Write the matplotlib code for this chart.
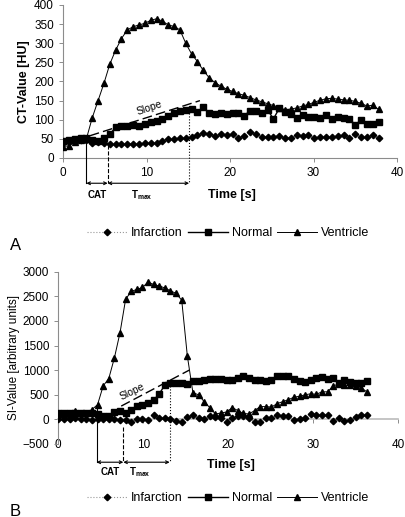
import numpy as np
import matplotlib
matplotlib.use('Agg')
import matplotlib.pyplot as plt
from matplotlib.lines import Line2D

plt.rcParams['font.family'] = ['Liberation Sans', 'DejaVu Sans']

#------ données panneau A (CT) ------
t_a = [0, 0.7, 1.4, 2.1, 2.8, 3.5, 4.2, 4.9, 5.6, 6.3, 7.0, 7.7, 8.4, 9.1, 9.8,
       10.5, 11.2, 11.9, 12.6, 13.3, 14.0, 14.7, 15.4, 16.1, 16.8, 17.5, 18.2,
       18.9, 19.6, 20.3, 21.0, 21.7, 22.4, 23.1, 23.8, 24.5, 25.2, 25.9, 26.6,
       27.3, 28.0, 28.7, 29.4, 30.1, 30.8, 31.5, 32.2, 32.9, 33.6, 34.3, 35.0,
       35.7, 36.4, 37.1, 37.8]
ventricle_a = [30, 32, 42, 46, 50, 105, 150, 195, 245, 282, 312, 335, 343, 348, 352,
               360, 364, 358, 348, 344, 335, 300, 272, 252, 229, 210, 197,
               188, 180, 174, 168, 164, 158, 152, 147, 142, 137, 132, 126,
               128, 131, 136, 140, 146, 151, 155, 156, 154, 152, 151, 148,
               143, 136, 138, 127]
normal_a = [45, 47, 50, 52, 52, 48, 45, 52, 62, 80, 84, 83, 85, 84, 88,
            95, 98, 102, 110, 118, 122, 126, 128, 120, 133, 118, 116,
            117, 115, 118, 118, 110, 124, 122, 118, 126, 102, 130, 120,
            115, 105, 112, 108, 108, 104, 112, 102, 108, 104, 103, 86,
            100, 88, 90, 93]
infarction_a = [40, 42, 45, 47, 48, 40, 42, 38, 36, 37, 36, 37, 36, 37, 40,
                40, 38, 45, 50, 50, 51, 52, 55, 60, 65, 64, 58,
                64, 60, 62, 53, 58, 68, 62, 56, 56, 56, 58, 52,
                53, 60, 58, 60, 53, 55, 56, 54, 58, 60, 52, 63,
                54, 56, 60, 53]
# temps caractéristiques A : début, CAT, Tmax
marks_a = [2.8, 5.35, 15.1]
tops_a = [50, 35, 125]
slope_a = [(3.2, 58), (16.4, 150)]

#------ données panneau B (SI) ------
t_b = [0, 0.66, 1.32, 1.98, 2.64, 3.3, 3.96, 4.62, 5.28, 5.94, 6.6, 7.26, 7.92,
       8.58, 9.24, 9.9, 10.56, 11.22, 11.88, 12.54, 13.2, 13.86, 14.52, 15.18,
       15.84, 16.5, 17.16, 17.82, 18.48, 19.14, 19.8, 20.46, 21.12, 21.78,
       22.44, 23.1, 23.76, 24.42, 25.08, 25.74, 26.4, 27.06, 27.72, 28.38,
       29.04, 29.7, 30.36, 31.02, 31.68, 32.34, 33.0, 33.66, 34.32, 34.98,
       35.64, 36.3]
ventricle_b = [100, 110, 90, 180, 120, 130, 200, 300, 680, 830, 1250, 1760, 2440,
               2600, 2640, 2680, 2790, 2740, 2710, 2670, 2610, 2560, 2420, 1290,
               540, 500, 360, 240, 110, 130, 150, 240, 180, 120,
               110, 180, 260, 260, 250, 320, 360, 400, 450, 470,
               500, 520, 510, 560, 560, 680, 720, 690, 700, 680,
               640, 560]
normal_b = [135, 120, 125, 135, 130, 125, 120, 100, 70, 65, 140, 170, 135,
            200, 270, 300, 340, 390, 520, 700, 740, 740, 730, 710,
            770, 780, 790, 820, 830, 820, 790, 800, 840, 890,
            840, 800, 790, 780, 810, 880, 890, 880, 820, 770,
            750, 790, 840, 870, 820, 850, 740, 790, 760, 740,
            740, 770]
infarction_b = [0, 10, 0, 20, 0, 10, -10, 0, 10, 0, 10, -20, -10,
                -60, 10, 0, -10, 80, 20, 30, 10, -30, -50, 50,
                80, 20, 10, 60, 40, 20, -60, 30, 60, 60,
                30, -50, -50, 20, 30, 80, 60, 60, -10, 0,
                20, 100, 80, 90, 80, -30, 20, -30, -10, 50,
                90, 90]
marks_b = [4.5, 7.65, 13.1]
tops_b = [300, -150, 740]
slope_b = [(7.4, 270), (15.4, 1000)]

W, H = 406, 517
fig = plt.figure(figsize=(W/100, H/100), dpi=100)

axis_col = '#8c8c8c'
fs = 8.5


def draw_series(ax, t, inf, nor, ven):
    ax.plot(t, inf, color='#999999', ls=':', lw=0.8, marker='D', ms=3.3,
            mfc='black', mec='black', zorder=3)
    ax.plot(t, nor, color='black', ls='-', lw=1.0, marker='s', ms=4.3,
            mfc='black', mec='black', zorder=4)
    ax.plot(t, ven, color='black', ls='-', lw=0.7, marker='^', ms=4.0,
            mfc='black', mec='black', zorder=5)


def style_axes(ax):
    for s in ['top', 'right']:
        ax.spines[s].set_visible(False)
    for s in ['left', 'bottom']:
        ax.spines[s].set_color(axis_col)
        ax.spines[s].set_linewidth(0.8)
    ax.tick_params(colors=axis_col, labelcolor='black', labelsize=fs,
                   length=3, width=0.7, direction='out')


def draw_marks(ax, marks, tops, ybot, slope, slope_txt, txt_rot, lab_y, time_xy):
    styles = ['-', '--', ':']
    for x, top, st in zip(marks, tops, styles):
        ax.plot([x, x], [top, ybot], color='black', ls=st, lw=0.8,
                clip_on=False, zorder=6)
    ax.annotate('', xy=(marks[0], ybot), xytext=(marks[1], ybot),
                arrowprops=dict(arrowstyle='<->', lw=0.8, color='black',
                                mutation_scale=5, shrinkA=0, shrinkB=0),
                annotation_clip=False)
    ax.annotate('', xy=(marks[1], ybot), xytext=(marks[2], ybot),
                arrowprops=dict(arrowstyle='<->', lw=0.8, color='black',
                                mutation_scale=5, shrinkA=0, shrinkB=0),
                annotation_clip=False)
    (x0, y0), (x1, y1) = slope
    ax.plot([x0, x1], [y0, y1], color='black', ls=(0, (7, 3)), lw=1.0, zorder=6)
    ax.text(slope_txt[0], slope_txt[1], 'Slope', rotation=txt_rot, fontsize=7.5,
            ha='center', va='center', zorder=7)
    ax.text((marks[0] + marks[1]) / 2, lab_y, 'CAT', fontsize=7,
            fontweight='bold', ha='center', va='center', clip_on=False)
    ax.text((marks[1] + marks[2]) / 2 - 0.8, lab_y, r'T$_{\mathregular{max}}$',
            fontsize=7, fontweight='bold', ha='center', va='center',
            clip_on=False)
    ax.text(time_xy[0], time_xy[1], 'Time [s]', fontsize=9,
            fontweight='bold', ha='center', va='center', clip_on=False)


def make_legend(y):
    h = [Line2D([], [], color='#999999', ls=':', lw=0.8, marker='D', ms=3.3,
                mfc='black', mec='black'),
         Line2D([], [], color='black', ls='-', lw=1.0, marker='s', ms=4.3,
                mfc='black', mec='black'),
         Line2D([], [], color='black', ls='-', lw=0.7, marker='^', ms=4.0,
                mfc='black', mec='black')]
    fig.legend(h, ['Infarction', 'Normal', 'Ventricle'], loc='center',
               bbox_to_anchor=(0.562, y), ncol=3, frameon=False, fontsize=9,
               handlelength=3.2, handletextpad=0.3, columnspacing=0.4)


#------ panneau A ------
axA = fig.add_axes([63/W, 1 - 158/H, (397-63)/W, (158-5)/H])
draw_series(axA, t_a, infarction_a, normal_a, ventricle_a)
axA.set_xlim(0, 40)
axA.set_ylim(0, 400)
axA.set_yticks(np.arange(0, 401, 50))
axA.set_xticks([0, 10, 20, 30, 40])
style_axes(axA)
axA.set_ylabel('CT-Value [HU]', fontsize=9, fontweight='bold', labelpad=3)
draw_marks(axA, marks_a, tops_a, -66, slope_a, (10.4, 130), 19, -97, (20.2, -97))
make_legend(1 - 233/H)
fig.text(10/W, 1 - 245/H, 'A', fontsize=12, ha='left', va='center')

#------ panneau B ------
axB = fig.add_axes([58.3/W, 1 - 444/H, (398.3-58.3)/W, (444-271.7)/H])
draw_series(axB, t_b, infarction_b, normal_b, ventricle_b)
axB.set_xlim(0, 40)
axB.set_ylim(-500, 3000)
axB.set_yticks(np.arange(-500, 3001, 500))
axB.set_xticks([0, 10, 20, 30, 40])
style_axes(axB)
axB.spines['bottom'].set_position(('data', 0))
axB.spines['bottom'].set_color('#bbbbbb')
axB.spines['bottom'].set_linewidth(1.2)
axB.tick_params(axis='x', pad=11)
axB.set_ylabel('SI-Value [arbitrary units]', fontsize=8.5, labelpad=2)
draw_marks(axB, marks_b, tops_b, -870, slope_b, (8.7, 570), 26, -1070, (20.3, -930))
make_legend(1 - 498/H)
fig.text(10/W, 1 - 511/H, 'B', fontsize=12, ha='left', va='center')

fig.savefig('out.png', dpi=100)
